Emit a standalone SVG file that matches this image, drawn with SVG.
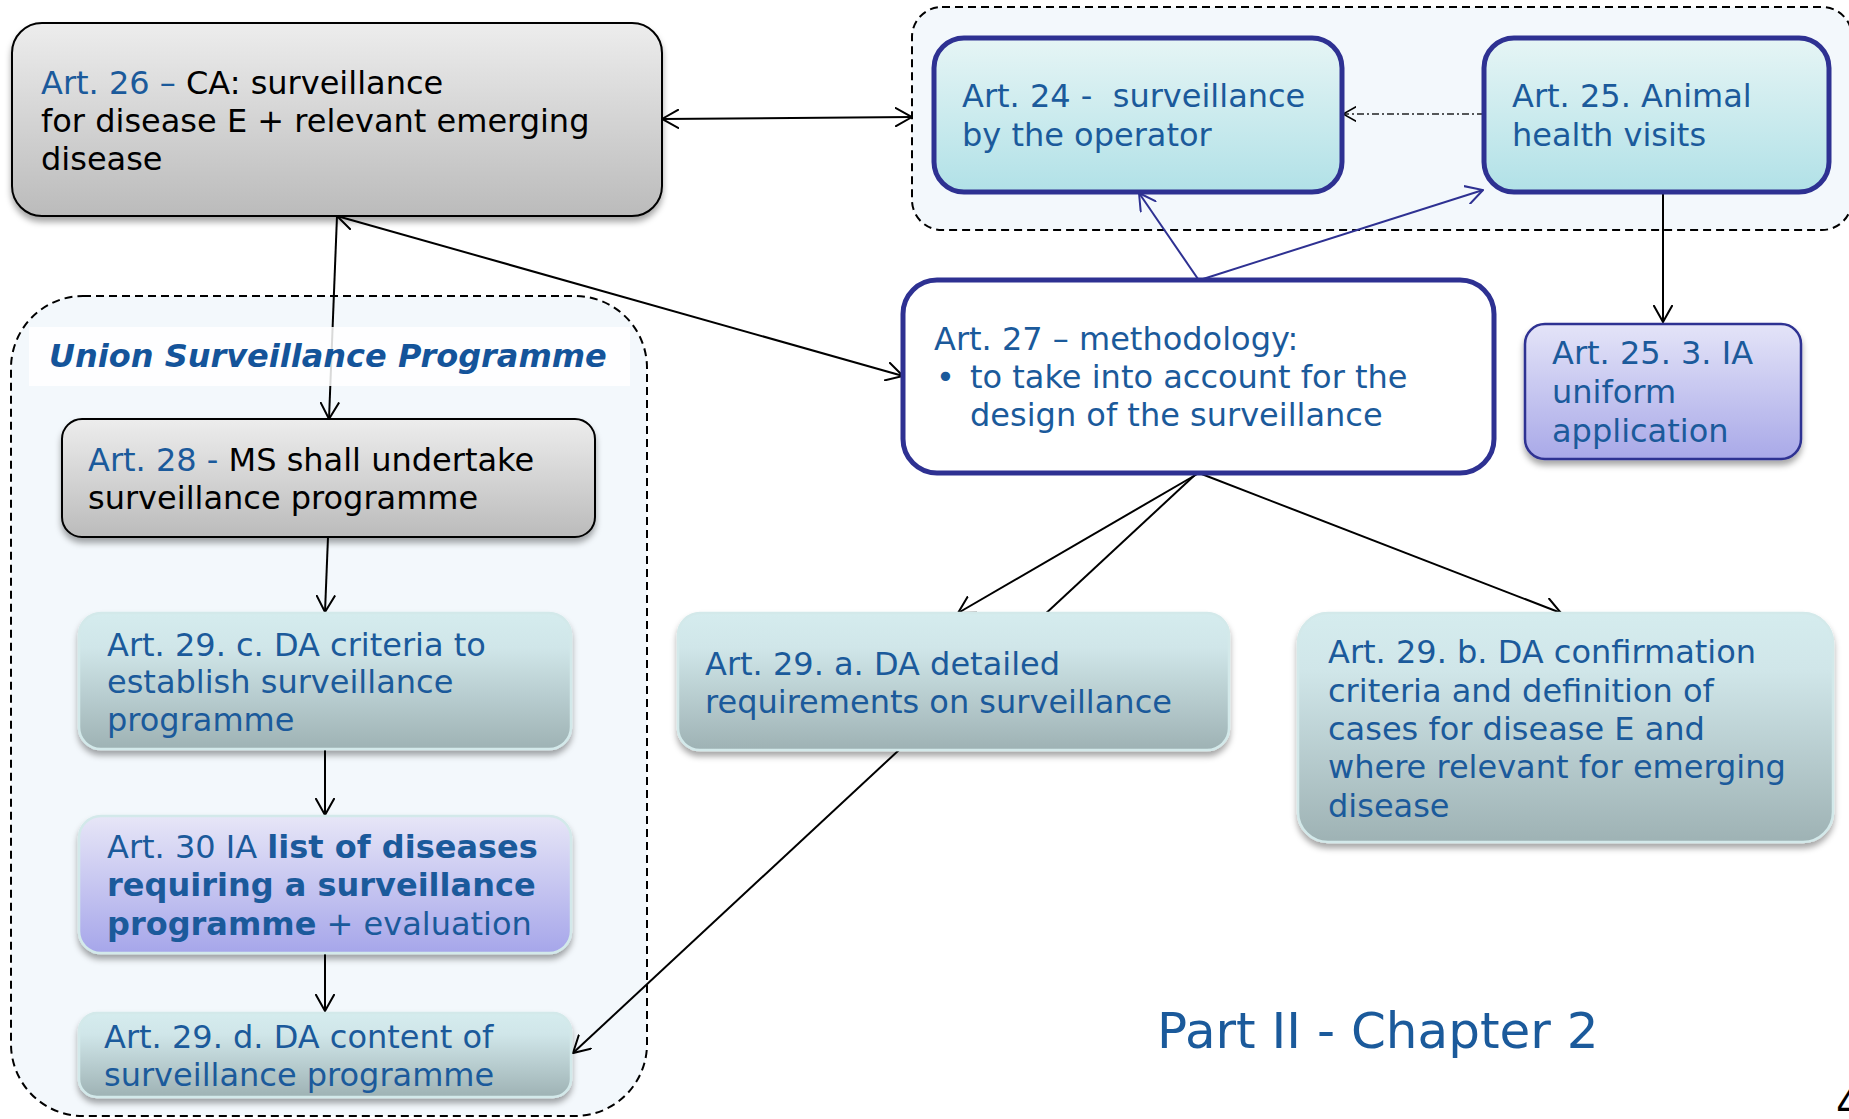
<svg xmlns="http://www.w3.org/2000/svg" width="1849" height="1119" viewBox="0 0 1849 1119">
<style>
  text { font-family: "DejaVu Sans", Verdana, sans-serif; font-size: 32px; fill: #1b5a9b; }
  .k { fill: #000; }
  .b { font-weight: bold; }
  .title { font-weight: bold; font-style: italic; fill: #14549a; }
  .big { font-size: 50px; fill: #1b5a9b; }
  .cont { fill: #f3f8fc; stroke: #000; stroke-width: 2; stroke-dasharray: 8 5; }
  .grayBox { fill: url(#gGray); stroke: #000; stroke-width: 2; filter: url(#sh); }
  .tealBox { fill: url(#gTeal); stroke: #d3e9ea; stroke-width: 2.5; filter: url(#sh); }
  .lavBox { fill: url(#gLav); stroke: #d3e9ea; stroke-width: 2.5; filter: url(#sh); }
  .cyanBox { fill: url(#gCyan); stroke: #2e3192; stroke-width: 5; }
  .iaBox { fill: url(#gIA); stroke: #2e3192; stroke-width: 2.5; filter: url(#sh); }
  .whiteBox { fill: #fff; stroke: #2e3192; stroke-width: 5; }
  .c { fill: none; stroke: #000; stroke-width: 2; }
  .cn { fill: none; stroke: #2e3192; stroke-width: 2; }
  .cd { fill: none; stroke: #222; stroke-width: 1.5; stroke-dasharray: 7 3 2 3; }
</style>
<defs>
  <linearGradient id="gGray" x1="0" y1="0" x2="0" y2="1">
    <stop offset="0" stop-color="#ededed"/><stop offset="1" stop-color="#bbbbbb"/>
  </linearGradient>
  <linearGradient id="gTeal" x1="0" y1="0" x2="0" y2="1">
    <stop offset="0" stop-color="#d5ecee"/><stop offset="0.25" stop-color="#d0e6e9"/><stop offset="1" stop-color="#9eb2b4"/>
  </linearGradient>
  <linearGradient id="gLav" x1="0" y1="0" x2="0" y2="1">
    <stop offset="0" stop-color="#e7e6f7"/><stop offset="1" stop-color="#a6a6ea"/>
  </linearGradient>
  <linearGradient id="gIA" x1="0" y1="0" x2="0" y2="1">
    <stop offset="0" stop-color="#e4e4f8"/><stop offset="1" stop-color="#a9a9e8"/>
  </linearGradient>
  <linearGradient id="gCyan" x1="0" y1="0" x2="0" y2="1">
    <stop offset="0" stop-color="#e6f5f5"/><stop offset="1" stop-color="#b1e1e7"/>
  </linearGradient>
  <filter id="sh" x="-5%" y="-10%" width="110%" height="130%">
    <feDropShadow dx="0" dy="5" stdDeviation="3" flood-color="#000" flood-opacity="0.35"/>
  </filter>
  <marker id="ah" viewBox="0 0 18 20" refX="17" refY="10" markerWidth="18" markerHeight="20" markerUnits="userSpaceOnUse" orient="auto-start-reverse">
    <path d="M0,0.5 L17,10 L0,19.5" fill="none" stroke="#000" stroke-width="2"/>
  </marker>
  <marker id="ahn" viewBox="0 0 18 20" refX="17" refY="10" markerWidth="18" markerHeight="20" markerUnits="userSpaceOnUse" orient="auto-start-reverse">
    <path d="M0,0.5 L17,10 L0,19.5" fill="none" stroke="#2e3192" stroke-width="2"/>
  </marker>
  <marker id="ahs" viewBox="0 0 18 20" refX="17" refY="10" markerWidth="14" markerHeight="16" markerUnits="userSpaceOnUse" orient="auto-start-reverse">
    <path d="M0,0.5 L17,10 L0,19.5" fill="none" stroke="#000" stroke-width="2"/>
  </marker>
</defs>

<rect width="1849" height="1119" fill="#fff"/>

<g id="container-operator">
  <rect class="cont" x="912" y="7" width="940" height="223" rx="30"/>
</g>
<g id="container-union">
  <rect class="cont" x="11" y="296" width="636" height="820" rx="72"/>
</g>

<g id="connectors">
  <line class="c" x1="662" y1="119" x2="912" y2="117" marker-start="url(#ah)" marker-end="url(#ah)"/>
  <line class="c" x1="337" y1="216" x2="903" y2="376" marker-start="url(#ah)" marker-end="url(#ah)"/>
  <line class="c" x1="337" y1="216" x2="329" y2="419" marker-end="url(#ah)"/>
  <line class="c" x1="328" y1="537" x2="325" y2="612" marker-end="url(#ah)"/>
  <line class="c" x1="325" y1="750" x2="325" y2="815" marker-end="url(#ah)"/>
  <line class="c" x1="325" y1="953" x2="325" y2="1011" marker-end="url(#ah)"/>
  <line class="cd" x1="1484" y1="114" x2="1343" y2="114" marker-end="url(#ahs)"/>
  <line class="c" x1="1663" y1="192" x2="1663" y2="322" marker-end="url(#ah)"/>
  <line class="cn" x1="1198" y1="279" x2="1139" y2="193" marker-end="url(#ahn)"/>
  <line class="cn" x1="1203" y1="279" x2="1483" y2="190" marker-end="url(#ahn)"/>
  <line class="c" x1="1199" y1="473" x2="958" y2="613" marker-end="url(#ah)"/>
  <line class="c" x1="1199" y1="473" x2="1561" y2="613" marker-end="url(#ah)"/>
  <line class="c" x1="1197" y1="473" x2="573" y2="1053" stroke-width="1.8" marker-end="url(#ah)"/>
</g>

<g id="union-title">
  <rect x="29" y="327" width="601" height="59" fill="#ffffff" fill-opacity="0.85"/>
  <text class="title" x="49" y="367">Union Surveillance Programme</text>
</g>

<g id="art26">
  <rect class="grayBox" x="12" y="23" width="650" height="193" rx="30"/>
  <text x="41" y="94">Art. 26 –<tspan class="k"> CA: surveillance</tspan></text>
  <text class="k" x="41" y="132">for disease E + relevant emerging</text>
  <text class="k" x="41" y="170">disease</text>
</g>

<g id="art24">
  <rect class="cyanBox" x="934" y="38" width="408" height="154" rx="30"/>
  <text x="962" y="107" xml:space="preserve">Art. 24 -  surveillance</text>
  <text x="962" y="146">by the operator</text>
</g>

<g id="art25">
  <rect class="cyanBox" x="1484" y="38" width="345" height="154" rx="30"/>
  <text x="1512" y="107">Art. 25. Animal</text>
  <text x="1512" y="146">health visits</text>
</g>

<g id="art25-3">
  <rect class="iaBox" x="1525" y="324" width="276" height="135" rx="20"/>
  <text x="1552" y="364">Art. 25. 3. IA</text>
  <text x="1552" y="403">uniform</text>
  <text x="1552" y="442">application</text>
</g>

<g id="art27">
  <rect class="whiteBox" x="903" y="280" width="591" height="193" rx="34"/>
  <text x="934" y="350">Art. 27 – methodology:</text>
  <text x="936" y="388">•</text>
  <text x="970" y="388">to take into account for the</text>
  <text x="970" y="426">design of the surveillance</text>
</g>

<g id="art28">
  <rect class="grayBox" x="62" y="419" width="533" height="118" rx="20"/>
  <text x="88" y="471">Art. 28 - <tspan class="k">MS shall undertake</tspan></text>
  <text class="k" x="88" y="509">surveillance programme</text>
</g>

<g id="art29c">
  <rect class="tealBox" x="79" y="613" width="492" height="136" rx="22"/>
  <text x="107" y="656">Art. 29. c. DA criteria to</text>
  <text x="107" y="693">establish surveillance</text>
  <text x="107" y="731">programme</text>
</g>

<g id="art30">
  <rect class="lavBox" x="79" y="816" width="492" height="137" rx="22"/>
  <text x="107" y="858">Art. 30 IA <tspan class="b">list of diseases</tspan></text>
  <text class="b" x="107" y="896">requiring a surveillance</text>
  <text x="107" y="935"><tspan class="b">programme</tspan> + evaluation</text>
</g>

<g id="art29d">
  <rect class="tealBox" x="79" y="1013" width="492" height="84" rx="18"/>
  <text x="104" y="1048">Art. 29. d. DA content of</text>
  <text x="104" y="1086">surveillance programme</text>
</g>

<g id="art29a">
  <rect class="tealBox" x="678" y="613" width="551" height="137" rx="22"/>
  <text x="705" y="675">Art. 29. a. DA detailed</text>
  <text x="705" y="713">requirements on surveillance</text>
</g>

<g id="art29b">
  <rect class="tealBox" x="1298" y="613" width="535" height="229" rx="30"/>
  <text x="1328" y="663">Art. 29. b. DA confirmation</text>
  <text x="1328" y="702">criteria and definition of</text>
  <text x="1328" y="740">cases for disease E and</text>
  <text x="1328" y="778">where relevant for emerging</text>
  <text x="1328" y="817">disease</text>
</g>

<g id="caption">
  <text class="big" x="1157" y="1048">Part II - Chapter 2</text>
  <text x="1836" y="1118" style="font-size:40px;fill:#000">4</text>
</g>
</svg>
